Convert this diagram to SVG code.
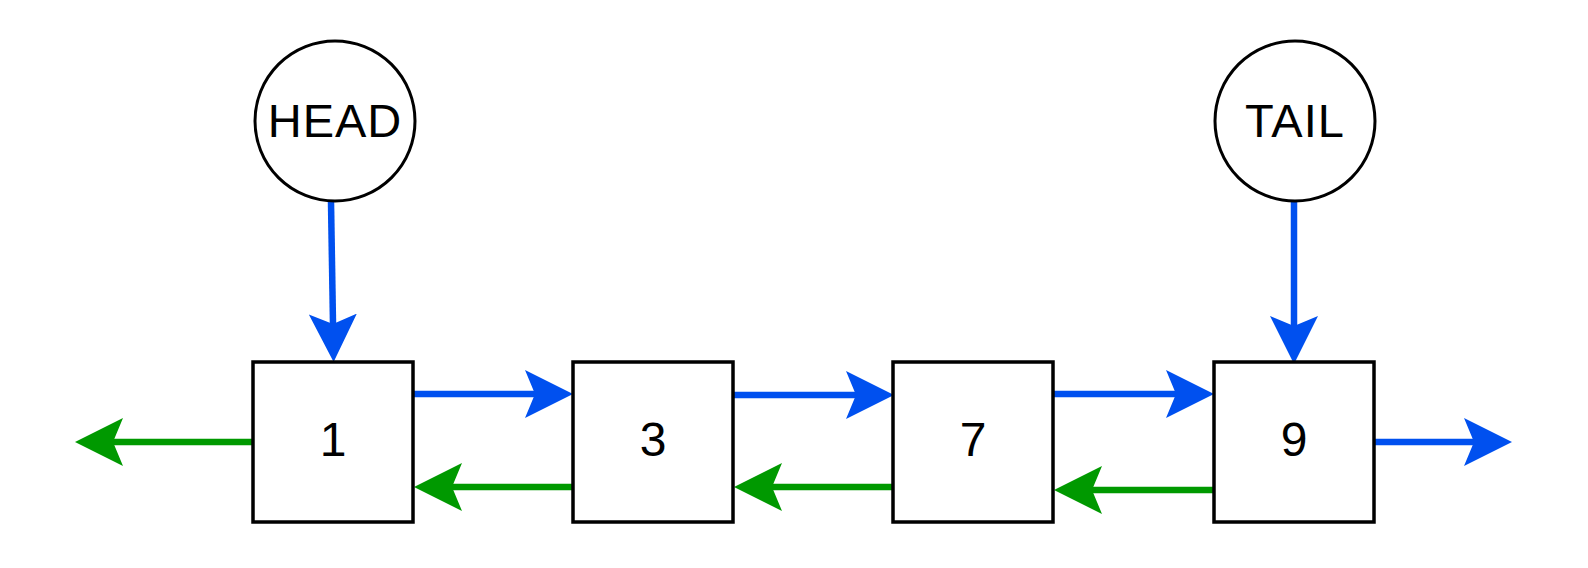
<svg xmlns="http://www.w3.org/2000/svg" width="1588" height="568" viewBox="0 0 1588 568">
<style>
.box{fill:#fff;stroke:#000;stroke-width:3.5}
.circ{fill:#fff;stroke:#000;stroke-width:3}
.lbl{font-family:"Liberation Sans",Arial,sans-serif;font-size:47px;letter-spacing:1px;fill:#000;text-anchor:middle}
.num{font-family:"Liberation Sans",Arial,sans-serif;font-size:48px;fill:#000;text-anchor:middle}
.b{stroke:#0050ef;stroke-width:6.5;fill:none;marker-end:url(#ab)}
.g{stroke:#009900;stroke-width:6.5;fill:none;marker-end:url(#ag)}
</style>
<defs>
<marker id="ab" markerUnits="userSpaceOnUse" markerWidth="50" markerHeight="50" refX="10" refY="24" orient="auto" viewBox="0 0 50 50">
<path d="M0,0 L48,24 L0,48 L10,24 Z" fill="#0050ef"/>
</marker>
<marker id="ag" markerUnits="userSpaceOnUse" markerWidth="50" markerHeight="50" refX="10" refY="24" orient="auto" viewBox="0 0 50 50">
<path d="M0,0 L48,24 L0,48 L10,24 Z" fill="#009900"/>
</marker>
</defs>
<rect width="1588" height="568" fill="#fff"/>
<g id="connectors">
<line class="b" x1="331" y1="202" x2="333" y2="324"/>
<line class="b" x1="1294" y1="202" x2="1294" y2="326"/>
<line class="b" x1="414" y1="394" x2="535" y2="394"/>
<line class="b" x1="734" y1="395" x2="856" y2="395"/>
<line class="b" x1="1054" y1="394" x2="1176" y2="394"/>
<line class="b" x1="1374" y1="442" x2="1474" y2="442"/>
<line class="g" x1="253" y1="442" x2="113" y2="442"/>
<line class="g" x1="573" y1="487" x2="452" y2="487"/>
<line class="g" x1="894" y1="487" x2="772" y2="487"/>
<line class="g" x1="1214" y1="490" x2="1092" y2="490"/>
</g>
<g id="head">
<circle class="circ" cx="335" cy="121" r="80"/>
<text class="lbl" x="335" y="137">HEAD</text>
</g>
<g id="tail">
<circle class="circ" cx="1295" cy="121" r="80"/>
<text class="lbl" x="1295" y="137">TAIL</text>
</g>
<g id="n1">
<rect class="box" x="253" y="362" width="160" height="160"/>
<text class="num" x="333" y="456">1</text>
</g>
<g id="n3">
<rect class="box" x="573" y="362" width="160" height="160"/>
<text class="num" x="653" y="456">3</text>
</g>
<g id="n7">
<rect class="box" x="893" y="362" width="160" height="160"/>
<text class="num" x="973" y="456">7</text>
</g>
<g id="n9">
<rect class="box" x="1214" y="362" width="160" height="160"/>
<text class="num" x="1294" y="456">9</text>
</g>
</svg>
